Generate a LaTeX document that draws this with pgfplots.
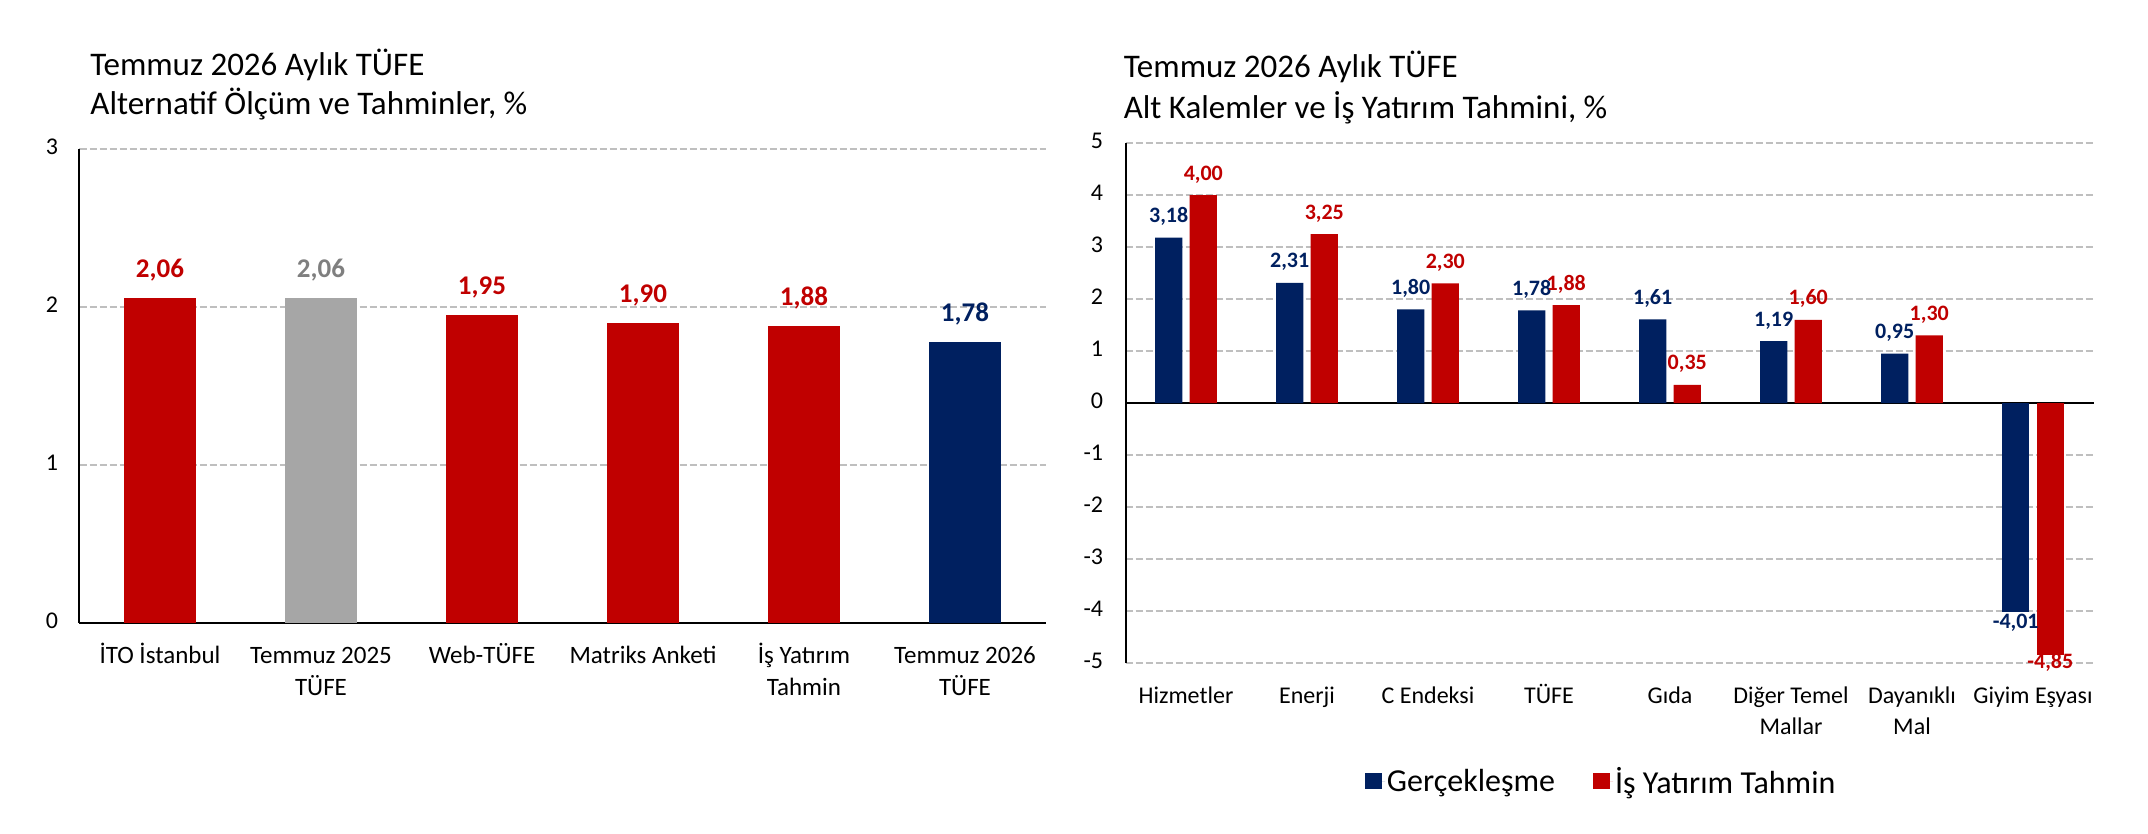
\documentclass[border=0pt]{standalone}
\usepackage{fontspec}
\setmainfont{Carlito}
\usepackage{pgfplots}
\pgfplotsset{compat=1.18}
\definecolor{cred}{HTML}{C00000}
\definecolor{cnavy}{HTML}{002060}
\definecolor{cgray}{HTML}{A6A6A6}
\definecolor{cgraytxt}{HTML}{7F7F7F}
\definecolor{cgrid}{HTML}{BFBFBF}
\begin{document}
\begin{tikzpicture}
\useasboundingbox (0,0) rectangle (1074bp,417bp);
\tikzset{ttl/.style={anchor=base west, inner sep=0pt, font=\fontsize{16.5bp}{20bp}\selectfont}}
\node[ttl] at (45bp,379bp) {Temmuz 2026 Aylık TÜFE};
\node[ttl] at (45bp,359.5bp) {Alternatif Ölçüm ve Tahminler, \%};
\node[ttl] at (561.7bp,378.3bp) {Temmuz 2026 Aylık TÜFE};
\node[ttl] at (561.7bp,357.8bp) {Alt Kalemler ve İş Yatırım Tahmini, \%};

\begin{axis}[
  at={(39.75bp,105.5bp)}, anchor=south west,
  scale only axis, width=483bp, height=237bp,
  xmin=-0.5, xmax=5.5, ymin=0, ymax=3,
  ytick={0,1,2,3}, xtick={0,...,5},
  xticklabels={İTO İstanbul, Temmuz 2025\\TÜFE, Web-TÜFE, Matriks Anketi, İş Yatırım\\Tahmin, Temmuz 2026\\TÜFE},
  major tick length=0pt,
  ymajorgrids, major grid style={cgrid, line width=0.7bp, dash pattern=on 3.5bp off 1.5bp},
  axis x line*=bottom, axis y line*=left,
  axis line style={-},
  x axis line style={black, line width=1.2bp},
  y axis line style={black, line width=1bp},
  typeset ticklabels with strut,
  xticklabel style={align=center, font=\fontsize{12.5bp}{16bp}\selectfont, inner sep=0pt, anchor=north, yshift=-8.8bp},
  yticklabel style={font=\fontsize{12bp}{14bp}\selectfont, inner sep=0pt, anchor=east, xshift=-10.5bp},
  /pgf/number format/assume math mode=true,
  ybar, bar width=0.447,
  nodes near coords={\pgfmathprintnumber[fixed,fixed zerofill,precision=2,use comma,assume math mode=true]{\pgfplotspointmeta}},
  nodes near coords style={font=\bfseries\fontsize{13.5bp}{16bp}\selectfont, anchor=base, inner sep=0pt, yshift=10bp},
  clip=false,
]
\addplot[fill=cred, draw=none, bar shift=0, nodes near coords style={text=cred}] coordinates {(0,2.06)};
\addplot[fill=cgray, draw=none, bar shift=0, nodes near coords style={text=cgraytxt}] coordinates {(1,2.06)};
\addplot[fill=cred, draw=none, bar shift=0, nodes near coords style={text=cred}] coordinates {(2,1.95)};
\addplot[fill=cred, draw=none, bar shift=0, nodes near coords style={text=cred}] coordinates {(3,1.90)};
\addplot[fill=cred, draw=none, bar shift=0, nodes near coords style={text=cred}] coordinates {(4,1.88)};
\addplot[fill=cnavy, draw=none, bar shift=0, nodes near coords style={text=cnavy}] coordinates {(5,1.78)};
\end{axis}

\begin{axis}[
  at={(562.75bp,85.5bp)}, anchor=south west,
  scale only axis, width=484bp, height=260bp,
  xmin=-0.5, xmax=7.5, ymin=-5, ymax=5,
  ytick={-5,-4,-3,-2,-1,0,1,2,3,4,5}, xtick={0,...,7},
  xticklabels={Hizmetler, Enerji, C Endeksi, TÜFE, Gıda, Diğer Temel\\Mallar, Dayanıklı\\Mal, Giyim Eşyası},
  major tick length=0pt,
  ymajorgrids, major grid style={cgrid, line width=0.7bp, dash pattern=on 3.5bp off 1.5bp},
  extra y ticks={0}, extra y tick labels={},
  extra y tick style={ymajorgrids, major grid style={solid, black, line width=1.2bp}},
  axis x line*=bottom, axis y line*=left,
  axis line style={-},
  x axis line style={draw=none},
  y axis line style={black, line width=1bp},
  typeset ticklabels with strut,
  xticklabel style={align=center, font=\fontsize{12bp}{15.5bp}\selectfont, inner sep=0pt, anchor=north, yshift=-9.15bp},
  yticklabel style={font=\fontsize{12bp}{14bp}\selectfont, inner sep=0pt, anchor=east, xshift=-11bp},
  /pgf/number format/assume math mode=true,
  ybar, bar width=0.225,
  nodes near coords={\pgfmathprintnumber[fixed,fixed zerofill,precision=2,use comma,assume math mode=true]{\pgfplotspointmeta}},
  nodes near coords style={font=\bfseries\fontsize{11bp}{13bp}\selectfont, anchor=base, inner sep=0pt, yshift=7.5bp},
  clip=false,
  legend image code/.code={\fill[#1] (0bp,-3.5bp) rectangle (8.5bp,4.5bp); \path (0bp,0bp) -- (10bp,0bp);},
  legend style={at={(0.247,-0.228)}, anchor=west, draw=none, fill=none, legend columns=2,
    font=\fontsize{16bp}{18bp}\selectfont, inner sep=0pt,
    nodes={inner sep=1bp},
    /tikz/every even column/.append style={column sep=18bp}},
  legend cell align=left,
]
\addplot[fill=cnavy, draw=none, bar shift=-0.143, nodes near coords style={text=cnavy}] coordinates {(0,3.18) (1,2.31) (2,1.80) (3,1.78) (4,1.61) (5,1.19) (6,0.95)};
\addplot[fill=cred, draw=none, bar shift=0.143, nodes near coords style={text=cred}] coordinates {(0,4.00) (1,3.25) (2,2.30) (3,1.88) (4,0.35) (5,1.60) (6,1.30)};
\legend{Gerçekleşme, İş Yatırım Tahmin}
\addplot[fill=cnavy, draw=none, bar shift=-0.143, forget plot, nodes near coords style={text=cnavy, yshift=-15.75bp}] coordinates {(7,-4.01)};
\addplot[fill=cred, draw=none, bar shift=0.143, forget plot, nodes near coords style={text=cred, yshift=-13.9bp}] coordinates {(7,-4.85)};
\end{axis}
\end{tikzpicture}
\end{document}
